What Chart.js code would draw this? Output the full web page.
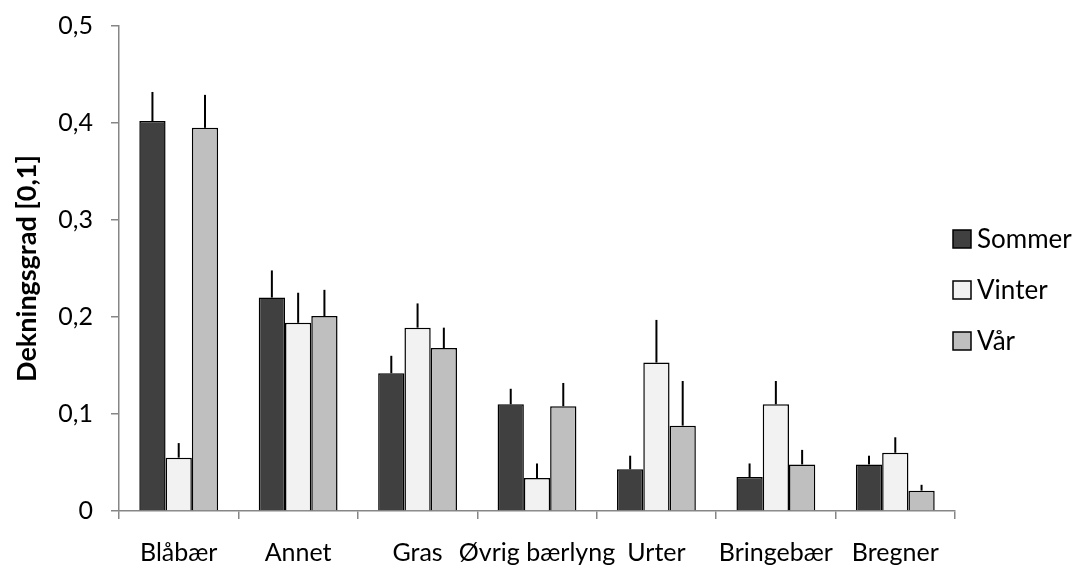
<!DOCTYPE html>
<html>
<head>
<meta charset="utf-8">
<script src="https://cdn.jsdelivr.net/npm/chart.js@4/dist/chart.umd.min.js"></script>
<style>
  body { margin: 0; background: #fff; }
  #wrap { width: 1079px; height: 568px; }
</style>
</head>
<body>
<div id="wrap"><canvas id="coverChart" width="1079" height="568"></canvas></div>
<script>
const categories = ['Blåbær', 'Annet', 'Gras', 'Øvrig bærlyng', 'Urter', 'Bringebær', 'Bregner'];
const seriesNames = ['Sommer', 'Vinter', 'Vår'];
const sommer = [0.402, 0.220, 0.142, 0.110, 0.043, 0.035, 0.048];
const vinter = [0.055, 0.194, 0.189, 0.034, 0.153, 0.110, 0.060];
const vaar   = [0.395, 0.201, 0.168, 0.108, 0.088, 0.048, 0.021];
// upper error (added on top of the bar)
const sommerErr = [0.030, 0.028, 0.018, 0.016, 0.014, 0.014, 0.009];
const vinterErr = [0.015, 0.031, 0.025, 0.015, 0.044, 0.024, 0.016];
const vaarErr   = [0.034, 0.027, 0.021, 0.024, 0.046, 0.015, 0.006];
const yTicks = [0, 0.1, 0.2, 0.3, 0.4, 0.5];

const colors = ['#404040', '#f2f2f2', '#bfbfbf'];
const FONT = 'Lato, "Open Sans", sans-serif';

const errorBars = {
    id: 'errorBars',
    afterDatasetsDraw(chart) {
        const { ctx, scales: { y } } = chart;
        ctx.save();
        ctx.strokeStyle = '#000';
        ctx.lineWidth = 2;
        chart.data.datasets.forEach((ds, i) => {
            const meta = chart.getDatasetMeta(i);
            meta.data.forEach((bar, j) => {
                const top = y.getPixelForValue(ds.data[j] + ds.errors[j]);
                ctx.beginPath();
                ctx.moveTo(bar.x, bar.y);
                ctx.lineTo(bar.x, top);
                ctx.stroke();
            });
        });
        ctx.restore();
    }
};

// Excel style legend, sitting just right of the plot
const sideLegend = {
    id: 'sideLegend',
    afterDraw(chart) {
        const { ctx, chartArea } = chart;
        const x = chartArea.right - 2;
        const y0 = 239;
        const step = 51;
        const box = 18;
        ctx.save();
        ctx.font = '26px ' + FONT;
        ctx.textBaseline = 'middle';
        chart.data.datasets.forEach((ds, i) => {
            const cy = y0 + i * step;
            ctx.fillStyle = ds.backgroundColor;
            ctx.fillRect(x, cy - box / 2, box, box);
            ctx.strokeStyle = '#000';
            ctx.lineWidth = 1.5;
            ctx.strokeRect(x, cy - box / 2, box, box);
            ctx.fillStyle = '#000';
            ctx.fillText(ds.label, x + box + 6, cy + 1);
        });
        ctx.restore();
    }
};

const makeSet = (i, data, errors) => ({
    label: seriesNames[i],
    data: data,
    errors: errors,
    backgroundColor: colors[i],
    borderColor: '#000',
    borderWidth: 1.5,
    categoryPercentage: 0.66,
    barPercentage: 1.0
});

new Chart(document.getElementById('coverChart').getContext('2d'), {
    type: 'bar',
    data: {
        labels: categories,
        datasets: [
            makeSet(0, sommer, sommerErr),
            makeSet(1, vinter, vinterErr),
            makeSet(2, vaar, vaarErr)
        ]
    },
    options: {
        responsive: false,
        animation: false,
        layout: { padding: { top: 26, right: 124, bottom: 0, left: 4 } },
        plugins: {
            legend: { display: false },
            tooltip: { enabled: false }
        },
        scales: {
            x: {
                afterFit: axis => { axis.height = 57; },
                grid: {
                    offset: true,
                    drawOnChartArea: false,
                    tickLength: 8,
                    color: '#868686',
                    lineWidth: 1.5
                },
                border: { color: '#868686', width: 1.5 },
                ticks: {
                    color: '#000',
                    padding: 19,
                    maxRotation: 0,
                    autoSkip: false,
                    font: { family: FONT, size: 25 }
                }
            },
            y: {
                min: 0,
                max: 0.5,
                afterBuildTicks: axis => { axis.ticks = yTicks.map(v => ({ value: v })); },
                afterFit: axis => {
                    axis.width = 115;
                    axis.paddingTop = 0;
                    axis.paddingBottom = 0;
                },
                grid: {
                    drawOnChartArea: false,
                    tickLength: 8,
                    color: '#868686',
                    lineWidth: 1.5
                },
                border: { color: '#868686', width: 1.5 },
                title: {
                    display: true,
                    text: 'Dekningsgrad [0,1]',
                    color: '#000',
                    padding: { top: 7, bottom: 0 },
                    font: { family: FONT, size: 27, weight: 'bold' }
                },
                ticks: {
                    color: '#000',
                    padding: 18,
                    font: { family: FONT, size: 25 },
                    callback: v => String(Math.round(v * 10) / 10).replace('.', ',')
                }
            }
        }
    },
    plugins: [errorBars, sideLegend]
});
</script>
</body>
</html>
